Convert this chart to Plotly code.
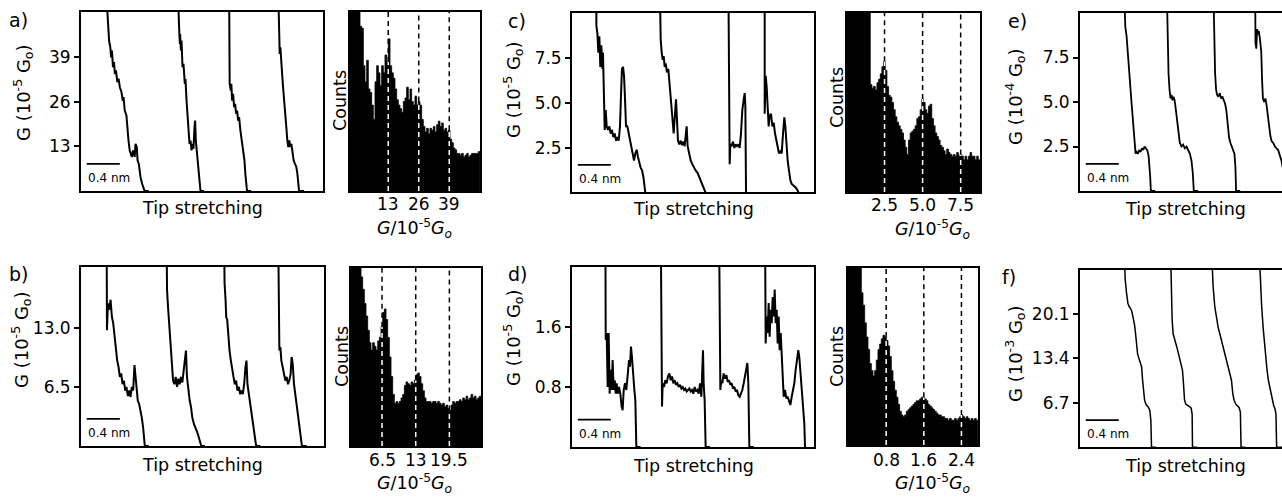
import plotly.graph_objects as go

W, H = 1282, 498
FONT = "DejaVu Sans"

# ---------------- DATA ----------------
# Conductance traces: (tip stretching in Angstrom, G in panel units)
a_traces = [
    [(3.0, 60), (3.2, 52), (3.4, 43.8), (3.55, 41.8), (3.65, 38.9), (3.75, 40.9), (3.87, 36.0), (4.0, 37.5),
     (4.1, 34.1), (4.23, 35.1), (4.4, 31.7), (4.55, 32.7), (4.7, 30.2), (4.9, 28.8), (5.05, 26.3), (5.15, 27.3),
     (5.3, 23.4), (5.5, 22.0), (5.65, 16.7), (5.75, 14.7), (5.9, 11.8), (6.0, 10.8), (6.15, 9.9), (6.3, 11.8),
     (6.5, 9.9), (6.6, 13.7), (6.75, 12.8), (6.85, 8.9), (7.0, 7.9), (7.1, 6.0), (7.2, 4.1), (7.4, 2.1),
     (7.55, 0.7), (7.7, 0), (8.2, 0)],
    [(11.7, 60), (11.8, 49.6), (11.9, 46.2), (11.97, 42.8), (12.0, 45.7), (12.09, 40.9), (12.17, 43.8),
     (12.29, 36.0), (12.41, 37.0), (12.57, 31.2), (12.65, 32.6), (12.78, 26.3), (12.9, 22.5), (13.02, 18.6),
     (13.14, 13.7), (13.26, 14.7), (13.38, 11.8), (13.5, 13.7), (13.62, 12.3), (13.74, 18.6), (13.82, 20.5),
     (13.9, 14.7), (14.02, 11.8), (14.15, 7.9), (14.27, 4.1), (14.39, 1.2), (14.47, 0), (14.9, 0)],
    [(17.93, 60), (18.0, 31.2), (18.14, 29.2), (18.2, 31.2), (18.3, 26.3), (18.42, 28.3), (18.54, 24.4),
     (18.66, 25.4), (18.78, 22.5), (18.9, 23.4), (19.02, 20.5), (19.14, 21.5), (19.3, 17.6), (19.46, 14.7),
     (19.63, 12.8), (19.79, 8.9), (19.9, 5.0), (20.03, 1.2), (20.1, 0), (20.6, 0)],
    [(23.86, 60), (23.98, 45.7), (24.06, 39.9), (24.14, 41.8), (24.26, 36.0), (24.38, 33.1), (24.5, 29.2),
     (24.62, 26.3), (24.74, 22.5), (24.86, 18.6), (24.98, 14.7), (25.1, 12.8), (25.22, 14.7), (25.35, 12.8),
     (25.47, 13.7), (25.59, 10.8), (25.75, 8.9), (25.91, 7.9), (26.07, 7.0), (26.2, 5.0), (26.32, 2.1),
     (26.4, 0), (27.0, 0)],
]

b_traces = [
    [(3.1, 25), (3.14, 12.75), (3.26, 15.7), (3.42, 15.0), (3.58, 16.1), (3.74, 14.2), (3.9, 13.5), (4.06, 12.0),
     (4.22, 11.3), (4.38, 9.4), (4.54, 8.7), (4.7, 7.6), (4.86, 8.0), (5.03, 6.8), (5.19, 7.2), (5.35, 6.1),
     (5.5, 6.5), (5.67, 5.5), (5.83, 6.1), (5.99, 5.4), (6.15, 6.5), (6.31, 6.1), (6.47, 8.9), (6.59, 7.9),
     (6.71, 6.5), (6.87, 5.0), (7.04, 4.6), (7.2, 3.9), (7.36, 3.1), (7.52, 2.0), (7.64, 0.9), (7.72, 0),
     (8.2, 0)],
    [(10.33, 25), (10.41, 17.2), (10.53, 15.3), (10.65, 13.5), (10.77, 12.0), (10.89, 10.5), (11.01, 8.7),
     (11.14, 7.2), (11.3, 6.8), (11.46, 7.6), (11.62, 6.5), (11.78, 7.4), (11.94, 6.8), (12.1, 7.6), (12.26, 7.0),
     (12.42, 8.3), (12.58, 9.4), (12.7, 10.5), (12.82, 7.6), (12.98, 6.1), (13.15, 5.0), (13.31, 4.3),
     (13.47, 3.1), (13.67, 2.4), (13.87, 2.0), (14.07, 1.5), (14.27, 0.9), (14.47, 0.2), (14.55, 0), (15.0, 0)],
    [(17.29, 25), (17.37, 17.9), (17.49, 16.1), (17.57, 14.2), (17.69, 13.9), (17.81, 12.0), (17.97, 10.5),
     (18.13, 9.4), (18.29, 8.3), (18.45, 7.6), (18.61, 6.8), (18.77, 7.2), (18.93, 6.1), (19.1, 6.5),
     (19.26, 5.7), (19.42, 6.1), (19.58, 5.7), (19.74, 6.8), (19.9, 8.7), (20.02, 9.4), (20.14, 6.8),
     (20.3, 5.7), (20.46, 4.6), (20.62, 3.5), (20.78, 2.4), (20.94, 1.7), (21.1, 0.7), (21.19, 0), (21.7, 0)],
    [(23.84, 25), (23.92, 12.4), (24.0, 10.5), (24.12, 10.9), (24.24, 9.4), (24.4, 8.7), (24.56, 7.9),
     (24.72, 7.2), (24.88, 7.6), (25.04, 6.8), (25.2, 7.2), (25.36, 7.9), (25.48, 9.8), (25.61, 9.1),
     (25.77, 6.8), (25.93, 5.7), (26.09, 4.3), (26.25, 3.1), (26.41, 2.0), (26.53, 1.5), (26.65, 0.9),
     (26.73, 0), (27.3, 0)],
]

c_traces = [
    [(2.95, 12), (2.95, 9.3), (3.07, 8.9), (3.19, 7.8), (3.31, 8.7), (3.43, 7.0), (3.55, 8.2), (3.67, 6.9),
     (3.75, 7.8), (3.83, 5.9), (3.96, 3.5), (4.08, 4.6), (4.2, 3.7), (4.36, 3.5), (4.52, 3.7), (4.68, 3.3),
     (4.84, 3.5), (5.0, 3.1), (5.17, 3.3), (5.33, 2.9), (5.49, 3.1), (5.65, 2.9), (5.81, 3.7), (5.93, 5.4),
     (6.05, 6.9), (6.18, 7.0), (6.3, 6.5), (6.42, 5.2), (6.54, 3.7), (6.7, 3.7), (6.86, 3.3), (7.02, 2.9),
     (7.18, 2.6), (7.35, 2.0), (7.51, 1.8), (7.67, 2.2), (7.83, 2.4), (7.99, 2.0), (8.15, 1.6), (8.31, 1.4),
     (8.48, 1.25), (8.64, 0.9), (8.8, 0.3), (8.88, 0), (9.4, 0)],
    [(10.61, 12), (10.74, 8.5), (10.86, 7.8), (10.98, 7.4), (11.1, 7.6), (11.22, 7.0), (11.34, 7.2),
     (11.5, 6.7), (11.66, 6.9), (11.83, 6.1), (11.99, 5.2), (12.15, 4.2), (12.31, 3.3), (12.47, 4.4),
     (12.59, 5.2), (12.71, 4.1), (12.83, 2.9), (12.99, 2.7), (13.16, 2.9), (13.32, 2.65), (13.48, 2.85),
     (13.64, 2.6), (13.76, 3.3), (13.88, 3.7), (14.0, 2.6), (14.17, 2.2), (14.37, 1.8), (14.57, 1.6),
     (14.77, 1.4), (14.97, 1.25), (15.22, 1.1), (15.46, 0.8), (15.7, 0.6), (15.94, 0.3), (16.18, 0), (16.7, 0)],
    [(18.93, 12), (19.09, 1.6), (19.17, 2.7), (19.33, 2.6), (19.49, 2.85), (19.66, 2.5), (19.82, 2.7),
     (19.98, 2.6), (20.14, 2.7), (20.3, 2.5), (20.46, 3.3), (20.62, 4.6), (20.79, 5.2), (20.91, 5.55),
     (20.99, 4.8), (21.07, 0), (21.5, 0)],
    [(23.33, 12), (23.33, 4.4), (23.45, 6.5), (23.57, 5.9), (23.69, 4.8), (23.81, 3.7), (23.93, 4.3),
     (24.1, 4.4), (24.26, 3.7), (24.42, 3.9), (24.58, 3.3), (24.74, 2.9), (24.9, 2.4), (25.06, 2.2),
     (25.23, 2.3), (25.39, 2.2), (25.55, 3.3), (25.71, 4.2), (25.83, 3.7), (25.95, 2.6), (26.11, 1.8),
     (26.27, 1.25), (26.44, 0.7), (26.6, 0.5), (26.84, 0.4), (27.08, 0.3), (27.32, 0.13), (27.44, 0)],
]

d_traces = [
    [(4.04, 3), (4.08, 1.43), (4.2, 1.52), (4.32, 0.8), (4.44, 1.52), (4.56, 0.71), (4.68, 1.03), (4.8, 0.76),
     (4.92, 1.16), (5.04, 0.76), (5.17, 0.89), (5.29, 0.71), (5.41, 0.85), (5.53, 0.71), (5.69, 0.8),
     (5.85, 0.71), (6.01, 0.54), (6.13, 0.49), (6.26, 0.76), (6.42, 0.85), (6.58, 0.76), (6.74, 0.94),
     (6.9, 1.16), (7.02, 1.07), (7.14, 1.34), (7.26, 1.2), (7.39, 0.94), (7.55, 0.76), (7.67, 0.62),
     (7.79, 0), (8.3, 0)],
    [(10.74, 3), (10.9, 0.54), (10.98, 0.85), (11.14, 0.8), (11.3, 0.89), (11.46, 0.85), (11.62, 0.94),
     (11.79, 0.98), (11.95, 0.89), (12.11, 0.94), (12.27, 0.85), (12.43, 0.89), (12.59, 0.83), (12.75, 0.85),
     (12.92, 0.8), (13.08, 0.83), (13.24, 0.78), (13.4, 0.8), (13.56, 0.76), (13.72, 0.78), (13.88, 0.74),
     (14.05, 0.76), (14.21, 0.78), (14.37, 0.74), (14.53, 0.76), (14.69, 0.71), (14.85, 0.8), (15.01, 0.74),
     (15.18, 0.76), (15.34, 0.71), (15.5, 0.85), (15.66, 0.67), (15.78, 1.03), (15.86, 1.29), (15.94, 0.85),
     (16.06, 0.62), (16.18, 0), (16.7, 0)],
    [(17.8, 3), (17.88, 1.29), (17.96, 0.76), (18.08, 0.89), (18.2, 0.85), (18.36, 0.98), (18.53, 0.91),
     (18.69, 0.96), (18.85, 0.87), (19.01, 0.89), (19.17, 0.83), (19.33, 0.85), (19.49, 0.78), (19.66, 0.8),
     (19.82, 0.74), (19.98, 0.76), (20.14, 0.69), (20.3, 0.67), (20.46, 0.71), (20.62, 0.76), (20.79, 0.85),
     (20.95, 0.94), (21.11, 1.07), (21.23, 1.12), (21.35, 0.85), (21.47, 0), (22.0, 0)],
    [(23.37, 3), (23.45, 1.38), (23.57, 1.74), (23.69, 1.52), (23.81, 1.92), (23.93, 1.47), (24.05, 1.83),
     (24.18, 1.65), (24.3, 2.0), (24.42, 1.74), (24.54, 2.1), (24.66, 1.65), (24.78, 1.83), (24.9, 1.38),
     (25.02, 1.74), (25.14, 1.29), (25.27, 1.52), (25.39, 1.16), (25.51, 0.76), (25.63, 0.67), (25.79, 0.76),
     (25.95, 0.65), (26.11, 0.67), (26.27, 0.6), (26.44, 0.56), (26.6, 0.67), (26.76, 0.76), (26.92, 0.85),
     (27.08, 1.03), (27.24, 1.16), (27.4, 1.29), (27.52, 1.2), (27.65, 1.03), (27.77, 0.85), (27.89, 0.71),
     (28.01, 0.49), (28.13, 0.31), (28.21, 0)],
]

e_traces = [
    [(5.32, 12), (5.48, 9.25), (5.64, 8.7), (5.76, 7.9), (5.88, 7.0), (6.0, 6.05), (6.13, 5.5), (6.25, 4.9),
     (6.37, 4.2), (6.49, 3.4), (6.61, 2.5), (6.73, 2.1), (6.85, 2.2), (7.01, 2.1), (7.17, 2.3), (7.33, 2.2),
     (7.5, 2.4), (7.66, 2.3), (7.82, 2.5), (7.98, 2.4), (8.14, 2.3), (8.3, 2.0), (8.42, 1.5), (8.5, 0.8),
     (8.58, 0), (9.1, 0)],
    [(10.48, 12), (10.6, 7.9), (10.72, 6.6), (10.84, 5.7), (10.96, 5.2), (11.08, 5.4), (11.2, 5.1), (11.32, 5.3),
     (11.45, 5.1), (11.57, 4.7), (11.69, 4.2), (11.81, 3.6), (11.93, 3.0), (12.09, 2.7), (12.29, 2.5),
     (12.49, 2.6), (12.69, 2.4), (12.9, 2.5), (13.1, 2.3), (13.3, 2.1), (13.5, 1.7), (13.66, 1.0), (13.78, 0),
     (14.3, 0)],
    [(16.12, 12), (16.24, 7.9), (16.36, 6.6), (16.48, 5.7), (16.6, 5.4), (16.76, 5.3), (16.93, 5.5), (17.09, 5.2),
     (17.25, 5.3), (17.41, 5.1), (17.57, 4.9), (17.73, 4.5), (17.89, 3.8), (18.05, 3.0), (18.22, 2.7),
     (18.38, 2.5), (18.54, 2.4), (18.7, 2.1), (18.82, 1.35), (18.9, 0), (19.4, 0)],
    [(21.2, 12), (21.25, 8.3), (21.35, 8.0), (21.45, 9.1), (21.55, 8.8), (21.65, 9.0), (21.8, 8.5), (21.95, 7.8),
     (22.05, 6.2), (22.15, 5.2), (22.3, 5.0), (22.45, 5.2), (22.6, 4.8), (22.75, 4.2), (22.9, 3.5), (23.05, 3.1),
     (23.2, 2.8), (23.4, 2.7), (23.6, 2.5), (23.8, 2.4), (24.0, 2.3), (24.2, 2.0), (24.4, 1.7), (24.6, 1.2),
     (24.7, 0)],
]

f_traces = [
    [(5.32, 30), (5.48, 25.2), (5.64, 23.2), (5.8, 21.7), (5.96, 21.2), (6.13, 20.9), (6.29, 20.4), (6.45, 19.6),
     (6.61, 18.4), (6.73, 17.1), (6.85, 15.6), (6.97, 14.1), (7.13, 13.4), (7.29, 12.8), (7.46, 12.1),
     (7.58, 10.1), (7.7, 8.1), (7.82, 7.1), (7.98, 6.5), (8.14, 6.3), (8.3, 6.0), (8.46, 5.5), (8.58, 4.0),
     (8.66, 0), (9.2, 0)],
    [(10.96, 30), (11.04, 22.2), (11.16, 19.1), (11.28, 17.1), (11.45, 16.1), (11.61, 15.6), (11.77, 14.9),
     (11.93, 14.1), (12.09, 13.1), (12.25, 12.6), (12.41, 11.6), (12.53, 9.6), (12.66, 7.1), (12.82, 6.5),
     (12.98, 6.4), (13.14, 6.3), (13.3, 6.1), (13.46, 5.9), (13.58, 5.0), (13.62, 0), (14.2, 0)],
    [(15.92, 30), (16.12, 24.2), (16.32, 21.2), (16.52, 19.6), (16.72, 18.1), (16.93, 17.1), (17.13, 16.1),
     (17.33, 15.1), (17.53, 14.1), (17.73, 13.1), (17.93, 12.1), (18.14, 11.3), (18.34, 10.1), (18.5, 8.1),
     (18.66, 7.1), (18.86, 6.5), (19.06, 6.3), (19.26, 6.0), (19.42, 5.3), (19.5, 0), (20.0, 0)],
    [(21.68, 30), (21.84, 24.2), (22.0, 21.2), (22.17, 18.1), (22.33, 15.6), (22.49, 13.1), (22.65, 11.6),
     (22.81, 10.1), (22.97, 9.1), (23.13, 8.1), (23.29, 7.1), (23.45, 6.3), (23.61, 5.8), (23.73, 5.0),
     (23.81, 0), (24.5, 0)],
]

# y tick values / labels of the trace panels
a_yticks, a_ylabels = [13, 26, 39], ["13", "26", "39"]
b_yticks, b_ylabels = [6.5, 13.0], ["6.5", "13.0"]
c_yticks, c_ylabels = [2.5, 5.0, 7.5], ["2.5", "5.0", "7.5"]
d_yticks, d_ylabels = [0.8, 1.6], ["0.8", "1.6"]
e_yticks, e_ylabels = [2.5, 5.0, 7.5], ["2.5", "5.0", "7.5"]
f_yticks, f_ylabels = [6.7, 13.4, 20.1], ["6.7", "13.4", "20.1"]

# Histograms: first bin edge, bin width, counts (relative, 100 = top of frame)
hist_a_start, hist_a_width = -3.3, 0.71
hist_a_counts = [130, 130, 130, 130, 130, 130,
                 92, 91, 70, 61, 73, 57, 55, 48, 40, 61, 70, 66, 59, 70, 66, 76, 72, 85, 70, 66,
                 63, 57, 51, 48, 46, 44, 50, 52, 58, 51, 57, 50, 48, 53, 48, 50, 48, 40, 36, 33,
                 35, 32, 35, 34, 36, 33, 37, 39, 36, 38, 34, 35, 33, 34, 29, 27, 24, 23, 21, 21,
                 20, 21, 19, 20, 21, 19, 20, 21, 21, 21, 21, 22]
hist_a_ticks, hist_a_labels = [13, 26, 39], ["13", "26", "39"]

hist_b_start, hist_b_width = 0.51, 0.3218
hist_b_counts = [130, 130, 130, 130, 130, 130,
                 95, 88, 80, 73, 65, 58, 54, 58, 56, 54, 59, 61, 67, 75, 77, 71, 61, 50, 39, 29,
                 24, 25, 24, 25, 27, 29, 34, 36, 35, 34, 36, 35, 37, 40, 41, 39, 35, 31, 27, 25,
                 25, 25, 24, 25, 25, 24, 25, 24, 23, 24, 22, 23, 21, 20, 23, 25, 24, 25, 25, 26,
                 25, 27, 26, 28, 26, 27, 29, 27, 28, 26, 27, 28]
hist_b_ticks, hist_b_labels = [6.5, 13, 19.5], ["6.5", "13", "19.5"]

hist_c_start, hist_c_width = 0.033, 0.1092
hist_c_counts = [130, 130, 130, 130, 130, 130, 130, 130, 130, 130, 130, 130, 130, 130,
                 60, 58, 59, 57, 61, 63, 66, 70, 73, 68, 59, 54, 53, 50, 46, 42, 39, 37, 35, 33,
                 29, 25, 21, 29, 33, 34, 35, 37, 41, 42, 46, 52, 50, 46, 44, 48, 49, 41, 37, 33,
                 31, 29, 26, 25, 23, 21, 24, 22, 21, 20, 21, 20, 22, 20, 21, 20, 18, 20, 18, 20,
                 22, 20, 20, 18, 20, 18]
hist_c_ticks, hist_c_labels = [2.5, 5.0, 7.5], ["2.5", "5.0", "7.5"]

hist_d_start, hist_d_width = -0.011, 0.0354
hist_d_counts = [130, 130, 130, 130, 130, 130, 130, 130,
                 86, 79, 69, 61, 54, 46, 42, 39, 42, 48, 54, 57, 60, 62, 61, 59, 56, 50, 42, 36,
                 31, 27, 23, 19, 17, 16, 17, 19, 20, 21, 22, 23, 24, 25, 25, 26, 27, 27, 26, 25,
                 23, 22, 21, 20, 19, 18, 17, 17, 16, 16, 15, 15, 14, 15, 14, 14, 15, 14, 15, 16,
                 17, 16, 15, 16, 15, 14, 15, 14, 15, 14]
hist_d_ticks, hist_d_labels = [0.8, 1.6, 2.4], ["0.8", "1.6", "2.4"]

# ---------------- LAYOUT HELPERS ----------------
fig = go.Figure()
layout = dict(width=W, height=H, margin=dict(l=0, r=0, t=0, b=0), showlegend=False,
              plot_bgcolor="white", paper_bgcolor="white", font=dict(family=FONT, color="black"))
shapes, annotations = [], []
LW = 1.8


def ax_names(i):
    return ("x" if i == 1 else f"x{i}"), ("y" if i == 1 else f"y{i}")


def set_axes(i, box, xr, yr, yticks=None, ylabels=None, open_right=False):
    l, r, t, b = box
    xn, yn = ax_names(i)
    xkey = "xaxis" if i == 1 else f"xaxis{i}"
    ykey = "yaxis" if i == 1 else f"yaxis{i}"
    xa = dict(domain=[l / W, min(r / W, 1.0)], range=xr, anchor=yn, showline=True, mirror=True,
              linecolor="black", linewidth=LW, showgrid=False, zeroline=False, fixedrange=True,
              showticklabels=False, ticks="")
    ya = dict(domain=[1 - b / H, 1 - t / H], range=yr, anchor=xn, showline=True, mirror=not open_right,
              linecolor="black", linewidth=LW, showgrid=False, zeroline=False, fixedrange=True)
    if yticks is not None:
        ya.update(tickmode="array", tickvals=yticks, ticktext=ylabels, ticks="outside", ticklen=5,
                  tickwidth=1.5, tickcolor="black", tickfont=dict(size=17, family=FONT, color="black"))
    else:
        ya.update(showticklabels=False, ticks="")
    layout[xkey] = xa
    layout[ykey] = ya


def add_traces(i, traces, width):
    xn, yn = ax_names(i)
    for tr in traces:
        fig.add_trace(go.Scatter(x=[p[0] for p in tr], y=[p[1] for p in tr], mode="lines",
                                 line=dict(color="black", width=width), xaxis=xn, yaxis=yn,
                                 hoverinfo="skip"))
    # scale bar 0.4 nm = 4 Angstrom
    shapes.append(dict(type="line", xref=xn, yref=f"{yn} domain", x0=0.7, x1=4.7, y0=0.152, y1=0.152,
                       line=dict(color="black", width=1.7)))
    annotations.append(dict(text="0.4 nm", xref=xn, yref=f"{yn} domain", x=0.55, y=0.075,
                            xanchor="left", yanchor="middle", showarrow=False,
                            font=dict(size=12, family=FONT, color="black")))


def add_hist(i, start, width, counts, ticks, labels, label_py):
    xn, yn = ax_names(i)
    edges = [start + k * width for k in range(len(counts) + 1)]
    ys = list(counts) + [counts[-1]]
    fig.add_trace(go.Scatter(x=edges, y=ys, mode="lines", line=dict(shape="hv", color="black", width=0.8),
                             fill="tozeroy", fillcolor="black", xaxis=xn, yaxis=yn, hoverinfo="skip"))
    for g, lab in zip(ticks, labels):
        k = int((g - start) // width)
        h = min(counts[k], 100)
        shapes.append(dict(type="line", xref=xn, yref=yn, x0=g, x1=g, y0=0, y1=h,
                           line=dict(color="white", width=1.5, dash="5px,4px")))
        shapes.append(dict(type="line", xref=xn, yref=yn, x0=g, x1=g, y0=h, y1=100,
                           line=dict(color="black", width=1.5, dash="5px,4px")))
        annotations.append(dict(text=lab, xref=xn, yref="paper", x=g, y=1 - label_py / H,
                                xanchor="center", yanchor="middle", showarrow=False,
                                font=dict(size=17, family=FONT, color="black")))


def text(t, px, py, size=17, angle=0, xanchor="center"):
    annotations.append(dict(text=t, xref="paper", yref="paper", x=px / W, y=1 - py / H, xanchor=xanchor,
                            yanchor="middle", showarrow=False, textangle=angle,
                            font=dict(size=size, family=FONT, color="black")))


# ---------------- PANELS ----------------
set_axes(1, (81, 323, 12, 191), [0, 29.3], [0, 52.1], a_yticks, a_ylabels)
add_traces(1, a_traces, 2.0)
set_axes(2, (350, 480, 12, 191), [-3.3, 52.1], [0, 100])
add_hist(2, hist_a_start, hist_a_width, hist_a_counts, hist_a_ticks, hist_a_labels, 204)

set_axes(3, (572, 814, 13, 192), [0, 29.3], [0.05, 10], c_yticks, c_ylabels)
add_traces(3, c_traces, 2.0)
set_axes(4, (847, 980, 13, 192), [0.033, 8.77], [0, 100])
add_hist(4, hist_c_start, hist_c_width, hist_c_counts, hist_c_ticks, hist_c_labels, 205)

set_axes(5, (1080, 1282, 13, 191), [0, 24.46], [0, 10], e_yticks, e_ylabels, open_right=True)
add_traces(5, e_traces, 1.8)

set_axes(6, (81, 324, 267, 446), [0, 29.4], [0, 19.7], b_yticks, b_ylabels)
add_traces(6, b_traces, 2.0)
set_axes(7, (351, 481, 268, 446), [0.51, 25.6], [0, 100])
add_hist(7, hist_b_start, hist_b_width, hist_b_counts, hist_b_ticks, hist_b_labels, 460)

set_axes(8, (572, 814, 267, 447), [0, 29.3], [0, 2.4], d_yticks, d_ylabels)
add_traces(8, d_traces, 2.0)
set_axes(9, (848, 978, 268, 445), [-0.011, 2.752], [0, 100])
add_hist(9, hist_d_start, hist_d_width, hist_d_counts, hist_d_ticks, hist_d_labels, 460)

set_axes(10, (1080, 1282, 270, 447), [0, 24.46], [0.05, 26.7], f_yticks, f_ylabels, open_right=True)
add_traces(10, f_traces, 1.5)

# ---------------- TEXT ----------------
for lab, px, py in [("a)", 7, 20), ("c)", 506, 21), ("e)", 1006, 21),
                    ("b)", 7, 274), ("d)", 506, 274), ("f)", 1000, 277)]:
    text(lab, px, py, size=19, xanchor="left")

ytitle5 = "G (10<sup>-5</sup> G<sub>o</sub>)"
text(ytitle5, 23, 93, size=18, angle=-90)
text(ytitle5, 513, 90, size=18, angle=-90)
text("G (10<sup>-4</sup> G<sub>o</sub>)", 1015, 97, size=18, angle=-90)
text(ytitle5, 21, 340, size=18, angle=-90)
text(ytitle5, 513, 338, size=18, angle=-90)
text("G (10<sup>-3</sup> G<sub>o</sub>)", 1015, 354, size=18, angle=-90)

for px, py in [(202, 208), (693, 209), (1185, 209), (202, 465), (693, 466), (1185, 466)]:
    text("Tip stretching", px, py, size=17.5)

for px, py in [(340, 101), (837, 98), (342, 357), (837, 357)]:
    text("Counts", px, py, size=17.5, angle=-90)

htitle = "<i>G</i>/10<sup>-5</sup><i>G<sub>o</sub></i>"
for px, py in [(415, 229), (932, 230), (415, 483), (932, 483)]:
    text(htitle, px, py, size=17.5)

layout["shapes"] = shapes
layout["annotations"] = annotations
fig.update_layout(**layout)
fig.write_html("out.html", config={"displayModeBar": False},
               post_script="document.body.style.margin='0px';document.body.style.overflow='hidden';")
